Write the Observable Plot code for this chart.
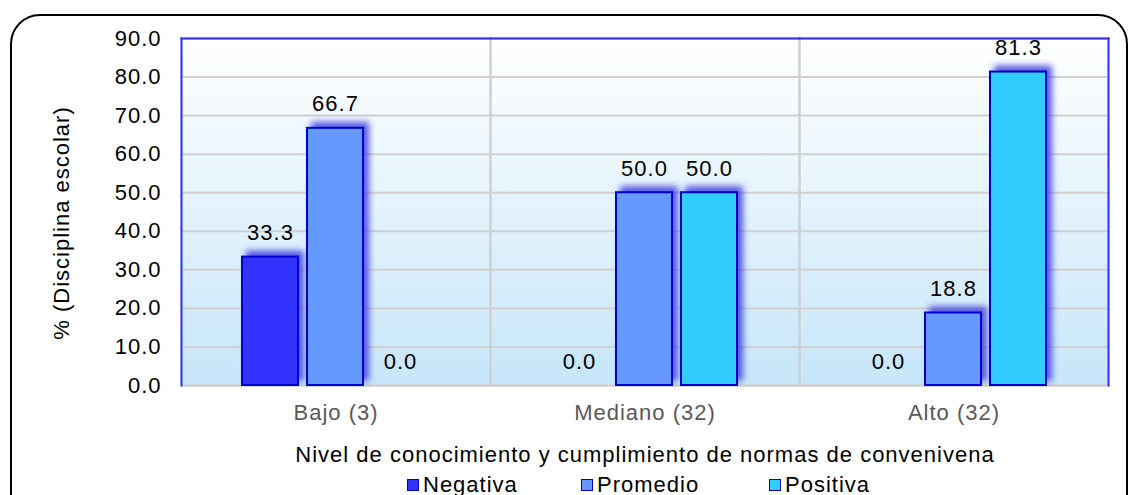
<!DOCTYPE html>
<html><head><meta charset="utf-8">
<script src="https://cdn.jsdelivr.net/npm/d3@7"></script>
<script src="https://cdn.jsdelivr.net/npm/@observablehq/plot@0.6"></script>
<style>
body{margin:0;background:#fff;font-family:"Liberation Sans",Arial,sans-serif;}
#wrap{position:relative;width:1129px;height:495px;overflow:hidden;}
#box{position:absolute;left:10px;top:14px;width:1118px;height:520px;border:2px solid #000;border-radius:30px;box-sizing:border-box;}
#chart{position:absolute;left:0;top:0;}
#legend{position:absolute;top:472px;left:0;width:1129px;height:26px;font-size:22px;letter-spacing:1px;color:#000;}
.item{position:absolute;top:0;white-space:nowrap;line-height:26px;}
.sw{display:inline-block;width:10px;height:10px;border:1px solid #0000CC;margin-right:4px;vertical-align:1px;}
</style></head>
<body>
<div id="wrap"><div id="box"></div><div id="chart"></div><div id="legend"></div></div>
<script>
const categories = ["Bajo (3)", "Mediano (32)", "Alto (32)"];
const series = ["Negativa", "Promedio", "Positiva"];
const negativa = [33.3, 0.0, 0.0];
const promedio = [66.7, 50.0, 18.8];
const positiva = [0.0, 50.0, 81.3];
const colors = ["#3333FF", "#6699FF", "#33CCFF"];
const yTicks = [0, 10, 20, 30, 40, 50, 60, 70, 80, 90];
const yLabel = "% (Disciplina escolar)";
const xLabel = "Nivel de conocimiento y cumplimiento de normas de convenivena";

const values = [negativa, promedio, positiva];
const data = categories.flatMap((c, i) => series.map((s, j) => ({cat: c, ser: s, v: values[j][i]})));
const fmt = d3.format(".1f");
const blue = "#3333FF";

const chart = Plot.plot({
  width: 1129, height: 472,
  marginLeft: 180, marginRight: 21, marginTop: 38, marginBottom: 87,
  style: {fontFamily: "'Liberation Sans', Arial, sans-serif", fontSize: "22px", letterSpacing: "1px", background: "transparent", overflow: "visible"},
  fx: {domain: categories, padding: 0, label: null, axis: null},
  x: {domain: series, paddingInner: 0.136, paddingOuter: 0.914, axis: null},
  y: {domain: [0, 90], ticks: yTicks, tickFormat: fmt},
  color: {domain: series, range: colors},
  marks: [
    Plot.frame({fill: "url(#bg)"}),
    Plot.gridY(yTicks, {stroke: "#d0d0d0", strokeOpacity: 1, strokeWidth: 2}),
    Plot.frame({stroke: "#d0d0d0", strokeWidth: 2}),
    Plot.frame({anchor: "top", stroke: blue, strokeWidth: 2}),
    Plot.frame({anchor: "left", facetAnchor: "left", stroke: blue, strokeWidth: 2}),
    Plot.frame({anchor: "right", facetAnchor: "right", stroke: blue, strokeWidth: 2}),
    Plot.barY(data, {fx: "cat", x: "ser", y: "v", fill: "ser", stroke: "#0000CC", strokeWidth: 2,
      imageFilter: "drop-shadow(5px -5px 3px rgba(60,60,220,0.85))"}),
    Plot.text(data, {fx: "cat", x: "ser", y: "v", text: d => fmt(d.v), lineAnchor: "bottom", dy: -17, fill: "#000"}),
    Plot.axisY(yTicks, {tickSize: 0, tickPadding: 20, tickFormat: fmt, fill: "#000", label: null}),
    Plot.text([yLabel], {text: d => d, frameAnchor: "left", facetAnchor: "left", rotate: -90,
      lineAnchor: "middle", textAnchor: "middle", dx: -120, dy: 11, fill: "#000"}),
    Plot.axisFx({anchor: "bottom", tickSize: 0, tickPadding: 19, fill: "#595959", label: null}),
    Plot.axisFx({anchor: "bottom", tickSize: 0, tickPadding: 19, tickFormat: () => "", fill: "#000",
      label: xLabel, labelAnchor: "center", labelArrow: "none", labelOffset: 76})
  ]
});
d3.select(chart).insert("defs", ":first-child").html(
  '<linearGradient id="bg" x1="0" y1="0" x2="0" y2="1"><stop offset="0" stop-color="#ffffff"/><stop offset="1" stop-color="#c6e6fa"/></linearGradient>');
document.getElementById("chart").appendChild(chart);

const legendX = [407, 581, 769];
const legend = d3.select("#legend");
series.forEach((s, i) => {
  const it = legend.append("div").attr("class", "item").style("left", legendX[i] + "px");
  it.append("span").attr("class", "sw").style("background", colors[i]);
  it.append("span").text(s);
});
</script>
</body></html>
